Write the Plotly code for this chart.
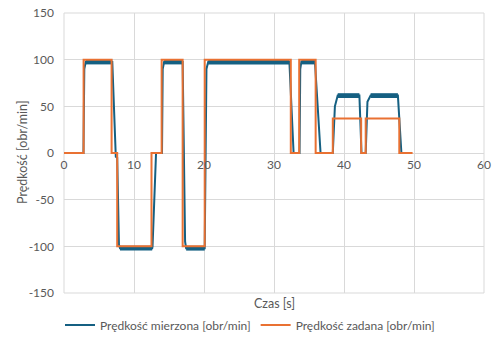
import plotly.graph_objects as go

# Setpoint speed (Prędkość zadana)
t_set = [0, 2.8, 2.8, 6.8, 6.8, 7.6, 7.6, 12.5, 12.5, 13.95, 13.95, 16.95, 16.95, 20.1, 20.1,
         32.4, 32.4, 33.6, 33.6, 35.95, 35.95, 38.4, 38.4, 42.45, 42.45, 43.1, 43.1, 47.9, 47.9, 49.8]
v_set = [0, 0, 100, 100, 0, 0, -100, -100, 0, 0, 100, 100, -100, -100, 100,
         100, 0, 0, 100, 100, 0, 0, 37, 37, 0, 0, 37, 37, 0, 0]

# Measured speed (Prędkość mierzona)
t_meas = [0, 2.78, 2.9, 3.1, 6.9, 7.3, 7.4, 7.6, 7.85, 8.0, 12.6, 12.65, 13.15, 14.0, 14.1, 14.3,
          16.95, 17.3, 17.45, 20.1, 20.35, 20.6, 32.2, 32.8, 33.65, 33.75, 33.9, 35.85, 36.65,
          38.4, 38.7, 39.1, 42.2, 42.5, 43.1, 43.35, 43.8, 47.7, 48.2, 49.5]
v_meas = [0, 0, 90, 97.5, 97.5, 0, -4, -5, -98, -102, -102, -100, 0, 0, 90, 97.5,
          97.5, -95, -102, -102, 90, 97.5, 97.5, 0, 0, 90, 97.5, 97.5, 0,
          0, 50, 61.5, 61.5, 0, 0, 55, 61.5, 61.5, 0, 0]

x_ticks = [0, 10, 20, 30, 40, 50, 60]
y_ticks = [-150, -100, -50, 0, 50, 100, 150]
y_tick_labels = ["-150", "-100", "-50", "0", "50", "100", "150"]

BLUE = "#156082"
ORANGE = "#E97132"
GRID = "#d9d9d9"
TXT = "#595959"
FONT = "Lato, 'Open Sans', sans-serif"

# plateau segments of the measured series (ripple band drawn thicker)
band_x, band_y = [], []
for i in range(len(t_meas) - 1):
    if v_meas[i] == v_meas[i + 1] and v_meas[i] != 0:
        band_x += [t_meas[i], t_meas[i + 1], None]
        band_y += [v_meas[i], v_meas[i + 1], None]

fig = go.Figure()
fig.add_trace(go.Scatter(x=t_meas, y=v_meas, mode="lines", name="Prędkość mierzona [obr/min]",
                         line=dict(color=BLUE, width=2), legendgroup="m"))
fig.add_trace(go.Scatter(x=band_x, y=band_y, mode="lines", showlegend=False, legendgroup="m",
                         line=dict(color=BLUE, width=4.8), hoverinfo="skip"))
fig.add_trace(go.Scatter(x=t_set, y=v_set, mode="lines", name="Prędkość zadana [obr/min]",
                         line=dict(color=ORANGE, width=2)))

fig.update_layout(
    width=500, height=355,
    margin=dict(l=64, r=16, t=13, b=62, autoexpand=False),
    paper_bgcolor="white", plot_bgcolor="white",
    font=dict(family=FONT, size=12, color=TXT),
    showlegend=True,
    legend=dict(orientation="h", xref="container", x=0.5, xanchor="center", y=-32 / 280,
                yanchor="middle", itemwidth=30, font=dict(size=12, color=TXT)),
    xaxis=dict(range=[0, 60], tickvals=x_ticks, showgrid=True, gridcolor=GRID, gridwidth=1,
               zeroline=False, showline=False, anchor="free", position=0.5, automargin=False,
               ticks="", ticklabelstandoff=3, tickfont=dict(size=12, color=TXT)),
    yaxis=dict(range=[-150, 150], tickvals=y_ticks, ticktext=y_tick_labels,
               showgrid=True, gridcolor=GRID, gridwidth=1,
               zeroline=True, zerolinecolor=GRID, zerolinewidth=1, showline=False, automargin=False,
               ticks="", ticklabelstandoff=9, tickfont=dict(size=12, color=TXT)),
    shapes=[
        dict(type="rect", xref="x domain", yref="y domain", x0=0, x1=1, y0=0, y1=1,
             line=dict(color=GRID, width=1), layer="below"),
    ],
    annotations=[
        dict(text="Czas [s]", xref="paper", yref="paper", x=0.5, y=0, yshift=-10,
             xanchor="center", yanchor="middle", showarrow=False, font=dict(size=12.5, color=TXT)),
        dict(text="Prędkość [obr/min]", xref="paper", yref="paper", x=0, y=0.5, xshift=-42,
             xanchor="center", yanchor="middle", textangle=-90, showarrow=False,
             font=dict(size=12.5, color=TXT)),
    ],
)

fig.write_html("out.html", config={"displayModeBar": False},
               post_script="document.body.style.margin='0';")
